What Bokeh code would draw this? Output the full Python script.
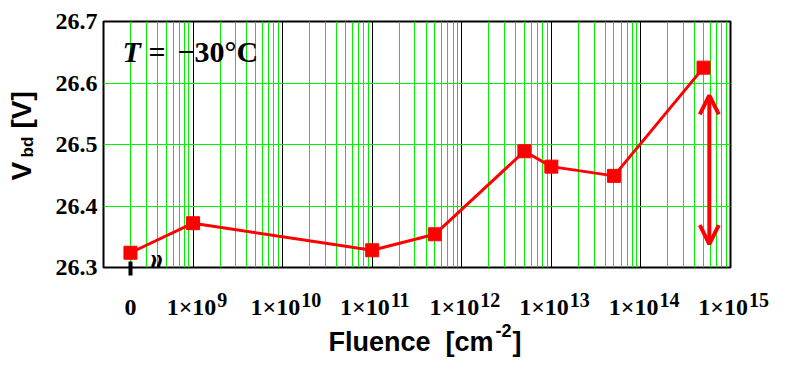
from bokeh.plotting import figure
from bokeh.models import (Range1d, FixedTicker, Label, Arrow, OpenHead,
                          ColumnDataSource, PrintfTickFormatter)
from bokeh.layouts import column, row
from bokeh.embed import file_html
from bokeh.resources import INLINE
import math

# ---------------- data ----------------
fluence = [0, 1e9, 1e11, 5e11, 5e12, 1e13, 5e13, 5e14]          # cm^-2
vbd = [26.324, 26.372, 26.328, 26.354, 26.489, 26.464, 26.449, 26.625]  # V
y_ticks = [26.3, 26.4, 26.5, 26.6, 26.7]
decade_exponents = [9, 10, 11, 12, 13, 14, 15]
zero_label = "0"
ZERO_POS = 2e8            # where fluence = 0 is drawn on the broken log axis
arrow_x = 5.8e14
arrow_y = [26.338, 26.580]

RED = "#ff0000"
GREEN = "#00f000"
SERIF = "Liberation Serif"
SANS = "Liberation Sans"

X0, X1 = 1e8, 1e15
Y0, Y1 = y_ticks[0], y_ticks[-1]

# geometry (pixels)
TOTAL_W, TOTAL_H = 778, 358
LEFT_W = 40                 # strip holding the y-axis title
FRAME_L, FRAME_R = 103, 730  # plot frame edges on the page
FRAME_T, FRAME_B = 21, 267
TICK_STRIP = 21              # room below the frame taken by the x axis (the "0" tick)
MAIN_H = FRAME_B + TICK_STRIP
BOTTOM_H = TOTAL_H - MAIN_H

x_plot = [ZERO_POS if f == 0 else f for f in fluence]
src = ColumnDataSource(dict(x=x_plot, y=vbd))

x_range = Range1d(X0, X1)
y_range = Range1d(Y0, Y1)


def bare(fig):
    fig.outline_line_color = None
    fig.background_fill_color = "white"
    fig.border_fill_color = "white"
    fig.grid.visible = False
    return fig


def label(fig, **kw):
    kw.setdefault("text_color", "black")
    kw.setdefault("text_baseline", "middle")
    kw.setdefault("text_align", "left")
    kw.setdefault("text_font_style", "bold")
    fig.add_layout(Label(**kw))


# ================= main plot =================
p = figure(width=TOTAL_W - LEFT_W, height=MAIN_H, x_axis_type="log",
           x_range=x_range, y_range=y_range,
           output_backend="svg", toolbar_location=None,
           min_border_left=FRAME_L - LEFT_W, min_border_right=TOTAL_W - FRAME_R,
           min_border_top=FRAME_T, min_border_bottom=TICK_STRIP)
p.background_fill_color = "white"
p.border_fill_color = "white"
p.outline_line_color = "black"
p.outline_line_width = 2

p.xgrid.ticker = FixedTicker(
    ticks=[10.0 ** e for e in range(8, 16)],
    minor_ticks=[k * 10.0 ** e for e in range(8, 15) for k in range(2, 10)])
p.xgrid.grid_line_color = "black"
p.xgrid.grid_line_width = 1
p.xgrid.minor_grid_line_color = GREEN
p.xgrid.minor_grid_line_width = 1
p.ygrid.ticker = FixedTicker(ticks=y_ticks)
p.ygrid.grid_line_color = GREEN
p.ygrid.grid_line_width = 1

xa = p.xaxis[0]
xa.ticker = FixedTicker(ticks=[ZERO_POS], minor_ticks=[])
xa.major_label_overrides = {ZERO_POS: ""}
xa.major_label_text_font_size = "0px"
xa.major_label_standoff = 0
xa.major_tick_in = 6
xa.major_tick_out = 8
xa.major_tick_line_width = 4
xa.major_tick_line_color = "black"
xa.minor_tick_line_color = None
xa.axis_line_color = None

ya = p.yaxis[0]
ya.ticker = FixedTicker(ticks=y_ticks, minor_ticks=[])
ya.formatter = PrintfTickFormatter(format="%.1f")
ya.major_tick_in = 0
ya.major_tick_out = 0
ya.minor_tick_line_color = None
ya.axis_line_color = None
ya.major_label_text_font = SERIF
ya.major_label_text_font_style = "bold"
ya.major_label_text_font_size = "24px"
ya.major_label_text_color = "black"
ya.major_label_standoff = 6

p.line("x", "y", source=src, line_color=RED, line_width=3)
p.scatter("x", "y", source=src, marker="square", size=13,
          fill_color=RED, line_color=RED)

p.add_layout(Arrow(x_start=arrow_x, y_start=arrow_y[0],
                   x_end=arrow_x, y_end=arrow_y[1],
                   start=OpenHead(size=19, line_color=RED, line_width=4),
                   end=OpenHead(size=19, line_color=RED, line_width=4),
                   line_color=RED, line_width=4))

# axis-break mark next to the zero position
label(p, x=3.8e8, y=Y0, y_offset=4, text="\u2248", angle=math.pi / 2,
      text_align="center", text_font="DejaVu Serif", text_font_size="27px")

# in-plot annotation: T = -30 C
for t, xo, style in [("T", 19, "bold italic"), ("=", 45, "bold"),
                     ("\u221230\u00b0C", 74, "bold")]:
    label(p, x=X0, y=Y1, x_offset=xo, y_offset=-30, text=t, text_font=SERIF,
          text_font_style=style, text_font_size="30px")

# ================= left strip: y-axis title =================
lf = bare(figure(width=LEFT_W, height=MAIN_H, x_range=Range1d(0, LEFT_W),
                 y_range=y_range, output_backend="svg", toolbar_location=None,
                 x_axis_location=None, y_axis_location=None,
                 min_border_left=0, min_border_right=0,
                 min_border_top=FRAME_T, min_border_bottom=TICK_STRIP))
for t, x, off, size in [("V", 21, 87, "28px"), ("bd", 27, 110, "17px"),
                        ("[V]", 21, 139, "28px")]:
    label(lf, x=x, y=Y0, y_offset=off, text=t, angle=math.pi / 2,
          text_font=SANS, text_font_size=size)

# ================= bottom strip: x tick labels and x-axis title =================
# y of this strip = pixels below the main frame's bottom edge (negative)
decade_px = (FRAME_R - FRAME_L) / math.log10(X1 / X0)
bx_range = Range1d(X0, X1 * 10 ** ((TOTAL_W - FRAME_R) / decade_px))
bf = bare(figure(width=TOTAL_W, height=BOTTOM_H, x_axis_type="log",
                 x_range=bx_range,
                 y_range=Range1d(-(TOTAL_H - FRAME_B), -TICK_STRIP),
                 output_backend="svg", toolbar_location=None,
                 x_axis_location=None, y_axis_location=None,
                 min_border_left=FRAME_L, min_border_right=0,
                 min_border_top=0, min_border_bottom=0))

label(bf, x=ZERO_POS, y=-39.5, text=zero_label, text_align="center",
      text_font=SERIF, text_font_size="24px")
for e in decade_exponents:
    exp_txt = str(e)
    shift = 29 - 5.75 * len(exp_txt)
    label(bf, x=10.0 ** e, y=-39.5, x_offset=shift, text="1\u00d710",
          text_align="right", text_font=SERIF, text_font_size="24px")
    label(bf, x=10.0 ** e, y=-32.5, x_offset=shift + 1, text=exp_txt,
          text_font=SERIF, text_font_size="20px")

label(bf, x=X0, y=-74, x_offset=225, text="Fluence\u00a0\u00a0[cm",
      text_font=SANS, text_font_size="27px")
label(bf, x=X0, y=-63, x_offset=392, text="-2", text_font=SANS,
      text_font_size="18px")
label(bf, x=X0, y=-74, x_offset=409, text="]", text_font=SANS,
      text_font_size="27px")

layout = column(row(lf, p, spacing=0), bf, spacing=0)
open("out.html", "w").write(file_html(layout, INLINE))
